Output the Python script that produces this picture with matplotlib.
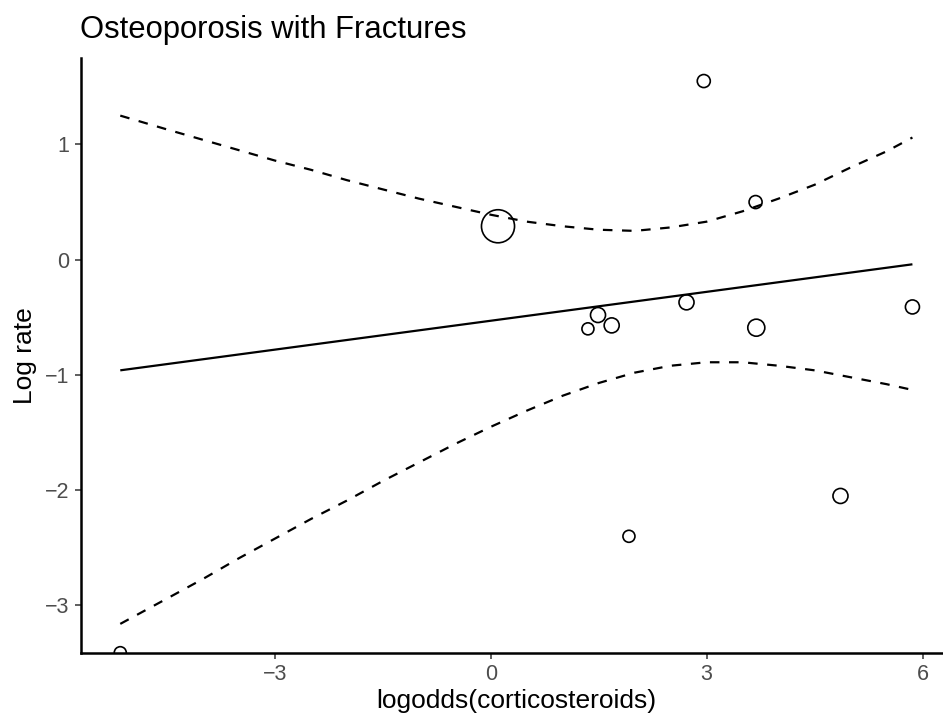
import numpy as np
import matplotlib.pyplot as plt

plt.rcParams['font.family'] = ['Liberation Sans', 'DejaVu Sans']

# study points: logodds(corticosteroids) vs log rate, weight -> bubble area
logodds = [-5.15, 2.96, 3.68, 0.10, 1.35, 1.49, 1.68, 2.72, 3.69, 5.86, 1.92, 4.86]
lograte = [-3.41, 1.55, 0.50, 0.29, -0.60, -0.48, -0.57, -0.37, -0.59, -0.41, -2.40, -2.05]
weights = [1.44, 1.69, 1.69, 10.9, 1.44, 2.25, 2.25, 2.25, 2.89, 1.96, 1.44, 2.25]

# fitted meta-regression line (end points)
fit_x = [-5.15, 5.86]
fit_y = [-0.96, -0.04]

# confidence bounds read along x
ci_x = [-5.15, -4.5, -4.0, -3.5, -3.0, -2.5, -2.0, -1.5, -1.0, -0.5, 0.0, 0.5,
        1.0, 1.5, 2.0, 2.5, 3.0, 3.5, 4.0, 4.5, 5.0, 5.5, 5.86]
ci_upper = [1.25, 1.13, 1.04, 0.95, 0.86, 0.78, 0.69, 0.61, 0.53, 0.46, 0.39, 0.33,
            0.29, 0.26, 0.25, 0.28, 0.33, 0.42, 0.53, 0.65, 0.80, 0.94, 1.06]
ci_lower = [-3.16, -2.94, -2.77, -2.59, -2.42, -2.25, -2.09, -1.92, -1.76, -1.60, -1.45, -1.31,
            -1.18, -1.07, -0.98, -0.92, -0.89, -0.89, -0.92, -0.96, -1.02, -1.08, -1.13]

fig = plt.figure(figsize=(9.43, 7.21), dpi=100)
ax = fig.add_axes([80.7 / 943, 1 - 652.7 / 721, (952 - 80.7) / 943, (652.7 - 58) / 721])

ax.plot(fit_x, fit_y, color='black', lw=1.6, solid_capstyle='butt')
ax.plot(ci_x, ci_upper, color='black', lw=1.6, dashes=(4.3, 4.3))
ax.plot(ci_x, ci_lower, color='black', lw=1.6, dashes=(4.3, 4.3))
ax.scatter(logodds, lograte, s=np.array(weights) * 52, facecolors='none',
           edgecolors='black', linewidths=1.2, zorder=3)

ax.set_xlim(-5.70, 6.41)
ax.set_ylim(-3.41, 1.75)
ax.set_xticks([-3, 0, 3, 6])
ax.set_yticks([-3, -2, -1, 0, 1])
ax.set_xticklabels(['\u22123', '0', '3', '6'])
ax.set_yticklabels(['\u22123', '\u22122', '\u22121', '0', '1'])

for s in ['top', 'right']:
    ax.spines[s].set_visible(False)
for s in ['left', 'bottom']:
    ax.spines[s].set_linewidth(1.8)
    ax.spines[s].set_color('black')
    ax.spines[s].set_zorder(4)

ax.tick_params(length=4, width=1.1, color='#333333', labelcolor='#4D4D4D',
               labelsize=15.5, pad=4)

ax.set_xlabel('logodds(corticosteroids)', fontsize=19, labelpad=3)
ax.set_ylabel('Log rate', fontsize=19, labelpad=6)
fig.text(80 / 943, 1 - 38 / 721, 'Osteoporosis with Fractures', fontsize=22.3,
         ha='left', va='baseline')

fig.savefig('out.png', dpi=100)
